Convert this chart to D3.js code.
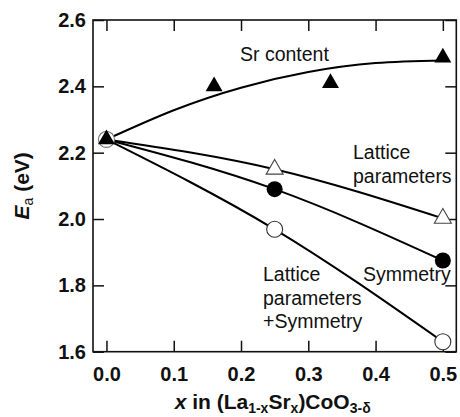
<!DOCTYPE html>
<html>
<head>
<meta charset="utf-8">
<script src="https://cdn.jsdelivr.net/npm/d3@7"></script>
<style>
  html, body { margin: 0; padding: 0; background: #fff; }
  svg { display: block; font-family: "Liberation Sans", Arial, Helvetica, sans-serif; }
</style>
</head>
<body>
<svg id="chart" width="460" height="417"></svg>
<script>
// Activation energy Ea versus Sr fraction x in (La1-xSrx)CoO3-δ

// Tick values
const xTicks = [0.0, 0.1, 0.2, 0.3, 0.4, 0.5];
const yTicks = [1.6, 1.8, 2.0, 2.2, 2.4, 2.6];

// Sr content: measured points (filled triangles) and the fitted trend line
const srX = [0.0, 0.16, 0.333, 0.5];
const srEa = [2.24, 2.40, 2.41, 2.487];
const srFitX = [0.0, 0.1, 0.2, 0.3, 0.4, 0.5];
const srFitEa = [2.24, 2.328, 2.396, 2.443, 2.470, 2.478];

// Calculated series at x = 0, 0.25, 0.5
const calcX = [0.0, 0.25, 0.5];
const latticeEa = [2.24, 2.15, 2.002];        // open triangles
const symmetryEa = [2.24, 2.09, 1.875];       // filled circles
const latticeSymEa = [2.24, 1.969, 1.63];     // open circles

const svg = d3.select("#chart");
const W = 460, H = 417;
svg.append("rect").attr("width", W).attr("height", H).attr("fill", "#fff");

const plot = { left: 93, right: 456.3, top: 20, bottom: 351.7 };

const x = d3.scaleLinear().domain([-0.02, 0.52]).range([plot.left, plot.right]);
const y = d3.scaleLinear().domain([1.6, 2.6]).range([plot.bottom, plot.top]);

const tickLen = 11;
const tickFont = "20px";

// Axes: ticks point inward on all four sides
const axB = svg.append("g").attr("transform", `translate(0,${plot.bottom})`)
  .call(d3.axisBottom(x).tickValues(xTicks).tickSizeInner(-tickLen).tickSizeOuter(0)
    .tickPadding(15).tickFormat(d3.format(".1f")));
const axT = svg.append("g").attr("transform", `translate(0,${plot.top})`)
  .call(d3.axisTop(x).tickValues(xTicks).tickSizeInner(-tickLen).tickSizeOuter(0).tickFormat(""));
const axL = svg.append("g").attr("transform", `translate(${plot.left},0)`)
  .call(d3.axisLeft(y).tickValues(yTicks).tickSizeInner(-tickLen).tickSizeOuter(0)
    .tickPadding(7).tickFormat(d3.format(".1f")));
const axR = svg.append("g").attr("transform", `translate(${plot.right},0)`)
  .call(d3.axisRight(y).tickValues(yTicks).tickSizeInner(-tickLen).tickSizeOuter(0).tickFormat(""));

[axB, axT, axL, axR].forEach(g => {
  g.select(".domain").remove();
  g.selectAll(".tick line").attr("stroke", "#111").attr("stroke-width", 1.5);
  g.selectAll(".tick text").attr("fill", "#111")
    .style("font-size", tickFont).style("font-weight", "bold")
    .style("font-family", "'Liberation Sans', Arial, sans-serif");
});

// Frame
svg.append("rect")
  .attr("x", plot.left).attr("y", plot.top)
  .attr("width", plot.right - plot.left).attr("height", plot.bottom - plot.top)
  .attr("fill", "none").attr("stroke", "#111").attr("stroke-width", 1.6);

// Lines
const line = d3.line().x(d => x(d[0])).y(d => y(d[1])).curve(d3.curveNatural);
const zip = (xs, ys) => xs.map((v, i) => [v, ys[i]]);

const lineG = svg.append("g").attr("fill", "none").attr("stroke", "#000").attr("stroke-width", 2);
lineG.append("path").attr("d", line(zip(srFitX, srFitEa)));
lineG.append("path").attr("d", line(zip(calcX, latticeEa)));
lineG.append("path").attr("d", line(zip(calcX, symmetryEa)));
lineG.append("path").attr("d", line(zip(calcX, latticeSymEa)));

// Markers
const tri = d3.symbol(d3.symbolTriangle, 125)();
const r = 8;
const markG = svg.append("g");

// open triangles (lattice parameters), beyond the shared origin
markG.selectAll(".lp").data(zip(calcX, latticeEa).filter(d => d[0] > 0)).join("path")
  .attr("d", tri).attr("transform", d => `translate(${x(d[0])},${y(d[1])})`)
  .attr("fill", "#fff").attr("stroke", "#444").attr("stroke-width", 1.1);

// filled circles (symmetry)
markG.selectAll(".sy").data(zip(calcX, symmetryEa).filter(d => d[0] > 0)).join("circle")
  .attr("cx", d => x(d[0])).attr("cy", d => y(d[1])).attr("r", r)
  .attr("fill", "#000");

// open circles (lattice parameters + symmetry), including the shared origin
markG.selectAll(".ls").data(zip(calcX, latticeSymEa)).join("circle")
  .attr("cx", d => x(d[0])).attr("cy", d => y(d[1])).attr("r", r)
  .attr("fill", "#fff").attr("stroke", d => d[0] === 0 ? "#777" : "#333").attr("stroke-width", 1.1);

// filled triangles (Sr content)
markG.selectAll(".sr").data(zip(srX, srEa)).join("path")
  .attr("d", tri).attr("transform", d => `translate(${x(d[0])},${y(d[1])})`)
  .attr("fill", "#000");

// Annotations
const ann = svg.append("g").attr("fill", "#111").style("font-size", "19.5px");
const addLines = (x0, y0, lines, dy) => lines.forEach((t, i) =>
  ann.append("text").attr("x", x0).attr("y", y0 + i * dy).text(t));
addLines(240, 61, ["Sr content"], 0);
addLines(353, 159, ["Lattice", "parameters"], 23.5);
addLines(363, 281, ["Symmetry"], 0);
addLines(263, 281, ["Lattice", "parameters", "+Symmetry"], 23.5);

// X axis title
const xt = svg.append("text")
  .attr("x", (plot.left + plot.right) / 2 - 2).attr("y", 409)
  .attr("text-anchor", "middle").attr("fill", "#111")
  .style("font-size", "21px").style("font-weight", "bold");
xt.append("tspan").style("font-style", "italic").text("x");
xt.append("tspan").text(" in (La");
xt.append("tspan").attr("dy", 4).style("font-size", "14px").text("1-x");
xt.append("tspan").attr("dy", -4).text("Sr");
xt.append("tspan").attr("dy", 4).style("font-size", "14px").text("x");
xt.append("tspan").attr("dy", -4).text(")CoO");
xt.append("tspan").attr("dy", 4).style("font-size", "14px").text("3-δ");

// Y axis title
const yt = svg.append("text")
  .attr("transform", `translate(29,${(plot.top + plot.bottom) / 2}) rotate(-90)`)
  .attr("text-anchor", "middle").attr("fill", "#111")
  .style("font-size", "21px").style("font-weight", "bold");
yt.append("tspan").style("font-style", "italic").text("E");
yt.append("tspan").attr("dy", 4).style("font-size", "14px").style("font-weight", "normal").text("a");
yt.append("tspan").attr("dy", -4).text(" (eV)");
</script>
</body>
</html>
